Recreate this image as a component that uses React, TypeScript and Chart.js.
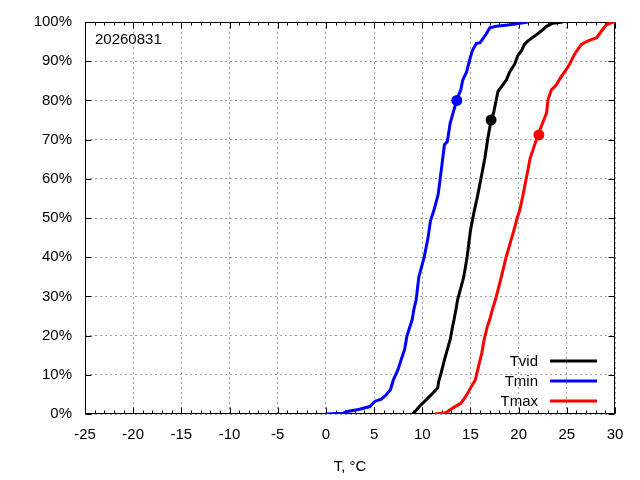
import React, { useEffect, useRef } from "react";
import { Chart, registerables } from "chart.js";

Chart.register(...registerables);

const FONT = '"Liberation Sans", Arial, Helvetica, sans-serif';

const dateLabel = "20260831";
const xTitle = "T, °C";
const seriesNames = ["Tvid", "Tmin", "Tmax"];
const seriesColors = ["#000000", "#0000ff", "#ff0000"];

// Tvid cumulative distribution
const tvidT = [9.03, 9.7, 10.4, 11.09, 11.6, 11.7, 11.95, 12.3, 12.6, 12.9, 13.15, 13.3, 13.5, 13.67, 14.3, 14.65, 15.0, 15.4, 15.7, 16.1, 16.5, 16.8, 17.15, 17.4, 17.68, 17.85, 18.72, 19.07, 19.6, 19.9, 20.3, 20.6, 20.97, 21.3, 21.66, 22.35, 22.9, 23.56, 24.6];
const tvidP = [0, 1.9, 3.6, 5.3, 6.6, 8.3, 10.4, 13.8, 16.4, 19, 22.4, 24.1, 26.7, 29.2, 34.9, 40, 46.8, 51.9, 55.2, 60.2, 65.3, 70.3, 75, 76.8, 80.2, 82.25, 85.2, 87.25, 89.3, 91.4, 92.7, 94.3, 95.2, 95.8, 96.4, 97.7, 98.9, 99.7, 100];

// Tmin cumulative distribution
const tminT = [0, 1.8, 2.1, 3.5, 4.55, 5.07, 5.75, 6.27, 6.7, 7.0, 7.48, 7.8, 8.16, 8.4, 8.68, 8.96, 9.13, 9.37, 9.64, 10.2, 10.6, 10.85, 11.2, 11.65, 12.0, 12.3, 12.6, 12.9, 13.2, 13.6, 14.0, 14.2, 14.6, 14.9, 15.2, 15.6, 16.0, 16.6, 17.0, 17.7, 19.1, 20.97];
const tminP = [0, 0.2, 0.6, 1.2, 1.9, 3.2, 3.8, 4.9, 6.2, 8.7, 11.3, 13.8, 16.4, 19.8, 22, 24.1, 26.7, 29.2, 34.9, 40, 45, 49.3, 51.9, 56, 62.8, 68.7, 69.5, 74.3, 76.8, 80.3, 82.7, 85.2, 87.25, 90.2, 92.7, 94.5, 94.75, 96.8, 98.5, 98.9, 99.3, 100];

// Tmax cumulative distribution
const tmaxT = [11.26, 12.46, 13.15, 14.0, 14.5, 15.0, 15.5, 15.83, 16.18, 16.42, 16.76, 17.0, 17.28, 17.6, 18.2, 18.7, 19.5, 19.85, 20.1, 20.4, 20.8, 21.2, 22.0, 22.5, 22.9, 23.05, 23.4, 23.9, 24.4, 24.9, 25.3, 25.8, 26.5, 27.2, 28.1, 28.6, 29.1, 29.8, 30];
const tmaxP = [0, 0.3, 1.5, 2.7, 4.4, 6.6, 8.7, 12.1, 15.6, 19, 22.4, 24.1, 26.7, 29.2, 34.9, 40, 46.8, 50, 51.9, 55.2, 60.2, 65.3, 71.2, 74.3, 76.8, 80.2, 82.7, 83.9, 86, 87.7, 89.3, 91.8, 94.3, 95.2, 96, 97.7, 99.3, 100, 100];

// highlighted points (Tvid, Tmin, Tmax)
const markerT = [17.14, 13.58, 22.1];
const markerP = [75, 80, 71.2];

const xMin = -25;
const xMax = 30;
const xMajorStep = 5;
const xMinorStep = 1;
const yMin = 0;
const yMax = 100;
const yStep = 10;

const toPoints = (xs: number[], ys: number[]) => xs.map((x, i) => ({ x, y: ys[i] }));

const framePlugin = {
  id: "frameTicks",
  beforeDatasetsDraw(chart: any) {
    const { ctx, chartArea } = chart;
    const xs = chart.scales.x;
    const ys = chart.scales.y;
    const L = Math.round(chartArea.left) + 0.5;
    const R = Math.round(chartArea.right) - 0.5;
    const T = Math.round(chartArea.top) + 0.5;
    const B = Math.round(chartArea.bottom) - 0.5;
    ctx.save();
    ctx.strokeStyle = "#000";
    ctx.lineWidth = 1;
    ctx.beginPath();
    ctx.rect(L, T, R - L, B - T);
    // x ticks
    for (let v = xMin; v <= xMax + 1e-9; v += xMinorStep) {
      const px = Math.round(xs.getPixelForValue(v)) + 0.5;
      const major = Math.abs(v / xMajorStep - Math.round(v / xMajorStep)) < 1e-9;
      const len = major ? 6 : 3;
      ctx.moveTo(px, B);
      ctx.lineTo(px, B - len);
      ctx.moveTo(px, T);
      ctx.lineTo(px, T + len);
    }
    // y ticks
    for (let v = yMin; v <= yMax + 1e-9; v += yStep) {
      const py = Math.round(ys.getPixelForValue(v)) + 0.5;
      ctx.moveTo(L, py);
      ctx.lineTo(L + 6, py);
      ctx.moveTo(R, py);
      ctx.lineTo(R - 6, py);
    }
    ctx.stroke();
    ctx.restore();
  },
  afterDraw(chart: any) {
    const { ctx, chartArea } = chart;
    ctx.save();
    ctx.fillStyle = "#000";
    ctx.font = `15px ${FONT}`;
    ctx.textAlign = "left";
    ctx.textBaseline = "alphabetic";
    ctx.fillText(dateLabel, chartArea.left + 10, chartArea.top + 22);

    // legend
    const items = chart.data.datasets.filter((d: any) => d.inLegend);
    items.forEach((d: any, i: number) => {
      const y = chartArea.bottom - 53 + i * 20;
      ctx.textAlign = "right";
      ctx.textBaseline = "middle";
      ctx.fillStyle = "#000";
      ctx.fillText(d.label, chartArea.right - 77, y + 1);
      ctx.strokeStyle = d.borderColor;
      ctx.lineWidth = 3;
      ctx.beginPath();
      ctx.moveTo(chartArea.right - 65, y);
      ctx.lineTo(chartArea.right - 18, y);
      ctx.stroke();
    });
    ctx.restore();
  },
};

export default function App() {
  const canvasRef = useRef<HTMLCanvasElement | null>(null);

  useEffect(() => {
    if (!canvasRef.current) return;
    const series = [
      toPoints(tvidT, tvidP),
      toPoints(tminT, tminP),
      toPoints(tmaxT, tmaxP),
    ];
    const lineSets = series.map((data, i) => ({
      type: "line" as const,
      label: seriesNames[i],
      inLegend: true,
      data,
      borderColor: seriesColors[i],
      backgroundColor: seriesColors[i],
      borderWidth: 3,
      pointRadius: 0,
      tension: 0,
      fill: false,
      order: 2,
    }));
    const markerSets = markerT.map((x, i) => ({
      type: "line" as const,
      label: seriesNames[i] + " marker",
      inLegend: false,
      data: [{ x, y: markerP[i] }],
      showLine: false,
      pointRadius: 5.5,
      pointBorderWidth: 0,
      pointBackgroundColor: seriesColors[i],
      borderColor: seriesColors[i],
      order: 1,
    }));

    const chart = new Chart(canvasRef.current, {
      type: "line",
      data: { datasets: [...lineSets, ...markerSets] as any },
      options: {
        animation: false,
        responsive: false,
        devicePixelRatio: 1,
        layout: { padding: { left: 0, top: 18, right: 25, bottom: 0 } },
        plugins: {
          legend: { display: false },
          tooltip: { enabled: false },
        },
        scales: {
          x: {
            type: "linear",
            min: xMin,
            max: xMax,
            afterFit: (s: any) => {
              s.height = 66;
            },
            ticks: {
              stepSize: xMajorStep,
              autoSkip: false,
              maxRotation: 0,
              padding: 12,
              color: "#000",
              font: { family: FONT, size: 15 },
            },
            grid: {
              color: "#a0a0a0",
              lineWidth: 1,
              drawTicks: false,
            },
            border: { display: false, dash: [2, 3] },
            title: {
              display: true,
              text: xTitle,
              color: "#000",
              font: { family: FONT, size: 15 },
              padding: { top: 0, bottom: 4 },
            },
          },
          y: {
            type: "linear",
            min: yMin,
            max: yMax,
            afterFit: (s: any) => {
              s.width = 85;
            },
            ticks: {
              stepSize: yStep,
              padding: 13,
              color: "#000",
              font: { family: FONT, size: 15 },
              callback: (v: any) => `${v}%`,
            },
            grid: {
              color: "#a0a0a0",
              lineWidth: 1,
              drawTicks: false,
            },
            border: { display: false, dash: [2, 3] },
          },
        },
      },
      plugins: [framePlugin],
    });
    return () => chart.destroy();
  }, []);

  return (
    <div style={{ position: "absolute", left: 0, top: 0, width: 640, height: 480, background: "#fff" }}>
      <canvas ref={canvasRef} width={640} height={480} style={{ display: "block", width: 640, height: 480 }} />
    </div>
  );
}
